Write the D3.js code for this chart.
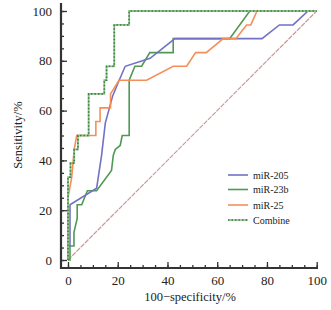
<!DOCTYPE html>
<html>
<head>
<meta charset="utf-8">
<script src="https://cdn.jsdelivr.net/npm/d3@7"></script>
<style>
  body { margin: 0; background: #fff; }
  text { font-family: "Liberation Serif", "DejaVu Serif", serif; fill: #222; }
</style>
</head>
<body>
<div id="chart"></div>
<script>
// ROC curves, values (x = 100-specificity, y = sensitivity)
const mir205X = [0, 0, 0.8, 0.8, 11.5, 13.5, 15, 18, 20.5, 23, 33, 43, 78, 85, 90.5, 96.5, 100];
const mir205Y = [0, 5.6, 5.6, 22.2, 28.8, 42, 55, 66, 72, 77.8, 81, 88.9, 88.9, 94.4, 94.4, 100, 100];

const mir23bX = [0, 0.8, 0.8, 2.4, 2.4, 3.7, 3.7, 5.5, 7.8, 11.5, 17.5, 18.2, 19, 21, 21.8, 24.6, 24.6, 26.9, 29.6, 32.9, 42.3, 42.3, 65, 73.1, 100];
const mir23bY = [0, 0, 5.6, 5.6, 11.1, 16.7, 22.2, 22.2, 27.8, 27.8, 36, 42, 44.4, 46, 50, 50, 72.2, 77.8, 77.8, 83.3, 83.3, 88.9, 88.9, 100, 100];

const mir25X = [0, 0, 1.5, 2.5, 3.5, 11.2, 11.2, 12.9, 12.9, 17.1, 17.1, 20.5, 31.6, 42.3, 47.7, 51.3, 55.6, 62.4, 67.5, 71.8, 73.5, 76, 100];
const mir25Y = [0, 25, 33.3, 44.4, 50, 50, 55.6, 55.6, 61.1, 61.1, 66.7, 72.2, 72.2, 77.8, 77.8, 83.3, 83.3, 88.9, 88.9, 94.4, 94.4, 100, 100];

const combineX = [0, 0, 1, 1, 2.5, 2.5, 4, 4, 8.3, 8.3, 14.6, 14.6, 15.5, 15.5, 18.6, 18.6, 24.6, 24.6, 100];
const combineY = [0, 33.3, 33.3, 38.9, 38.9, 44.4, 44.4, 50, 50, 66.7, 66.7, 72.2, 72.2, 77.8, 77.8, 94.4, 94.4, 100, 100];

const seriesNames = ["miR-205", "miR-23b", "miR-25", "Combine"];
const xMajorTicks = [0, 20, 40, 60, 80, 100];
const yMajorTicks = [0, 20, 40, 60, 80, 100];

const width = 331, height = 310;

const svg = d3.select("#chart").append("svg")
    .attr("width", width)
    .attr("height", height);

const x = d3.scaleLinear().domain([0, 100]).range([68, 316.7]);
const y = d3.scaleLinear().domain([0, 100]).range([260, 11]);

const axisX = 61, axisY = 268;

// minor ticks every 5
const minor = d3.range(0, 101, 5);

svg.append("g").attr("transform", "translate(" + axisX + ",0)")
    .call(d3.axisLeft(y).tickValues(minor).tickSize(-3).tickFormat(""));
svg.append("g").attr("transform", "translate(" + axisX + ",0)")
    .call(d3.axisLeft(y).tickValues(yMajorTicks).tickSize(-6).tickPadding(9));

svg.append("g").attr("transform", "translate(0," + axisY + ")")
    .call(d3.axisBottom(x).tickValues(minor).tickSize(-3).tickFormat(""));
svg.append("g").attr("transform", "translate(0," + axisY + ")")
    .call(d3.axisBottom(x).tickValues(xMajorTicks).tickSize(-6).tickPadding(8));

svg.selectAll(".domain").remove();
svg.selectAll(".tick line").attr("stroke", "#333").attr("stroke-width", 1.3);
svg.selectAll(".tick text")
    .style("font-family", "'Liberation Serif', serif")
    .style("font-size", "13px")
    .attr("fill", "#222");

// thick axis lines
svg.append("line")
    .attr("x1", axisX).attr("x2", axisX)
    .attr("y1", 3).attr("y2", axisY + 1)
    .attr("stroke", "#333").attr("stroke-width", 2.2);
svg.append("line")
    .attr("x1", axisX - 1).attr("x2", 318)
    .attr("y1", axisY).attr("y2", axisY)
    .attr("stroke", "#333").attr("stroke-width", 2.2);

// reference diagonal
svg.append("line")
    .attr("x1", x(0)).attr("y1", y(0))
    .attr("x2", x(100)).attr("y2", y(100))
    .attr("stroke", "#cc9a9a")
    .attr("stroke-width", 1.2)
    .attr("stroke-dasharray", "5,1");

const line = d3.line().x(d => x(d[0])).y(d => y(d[1]));
const zip = (xs, ys) => xs.map((v, i) => [v, ys[i]]);

svg.append("path").datum(zip(mir23bX, mir23bY))
    .attr("d", line).attr("fill", "none")
    .attr("stroke", "#4f9a52").attr("stroke-width", 1.6);

svg.append("path").datum(zip(mir205X, mir205Y))
    .attr("d", line).attr("fill", "none")
    .attr("stroke", "#7272c4").attr("stroke-width", 1.6);

svg.append("path").datum(zip(mir25X, mir25Y))
    .attr("d", line).attr("fill", "none")
    .attr("stroke", "#f58f5a").attr("stroke-width", 1.6);

// combine: light green under dark dashes
svg.append("path").datum(zip(combineX, combineY))
    .attr("d", line).attr("fill", "none")
    .attr("stroke", "#8cc28c").attr("stroke-width", 1.8);
svg.append("path").datum(zip(combineX, combineY))
    .attr("d", line).attr("fill", "none")
    .attr("stroke", "#3f7f42").attr("stroke-width", 1.6)
    .attr("stroke-dasharray", "1.5,2");

// axis titles
svg.append("text")
    .attr("transform", "translate(22,135) rotate(-90)")
    .attr("text-anchor", "middle")
    .style("font-size", "12.5px")
    .text("Sensitivity/%");

svg.append("text")
    .attr("x", 190).attr("y", 301)
    .attr("text-anchor", "middle")
    .style("font-size", "12.5px")
    .text("100\u2212specificity/%");

// legend
const legendColors = ["#7272c4", "#4f9a52", "#f58f5a", "#3f7f42"];
const legendY = [175, 189.5, 205, 220];
const legend = svg.append("g");
seriesNames.forEach((name, i) => {
    if (i === 3) {
        legend.append("line")
            .attr("x1", 228).attr("x2", 248).attr("y1", legendY[i]).attr("y2", legendY[i])
            .attr("stroke", "#8cc28c").attr("stroke-width", 1.6);
        legend.append("line")
            .attr("x1", 228).attr("x2", 248).attr("y1", legendY[i]).attr("y2", legendY[i])
            .attr("stroke", "#3f7f42").attr("stroke-width", 1.4).attr("stroke-dasharray", "1.5,2");
    } else {
        legend.append("line")
            .attr("x1", 228).attr("x2", 248).attr("y1", legendY[i]).attr("y2", legendY[i])
            .attr("stroke", legendColors[i]).attr("stroke-width", 1.6);
    }
    legend.append("text")
        .attr("x", 253).attr("y", legendY[i])
        .attr("dy", "0.35em")
        .style("font-size", "10px")
        .text(name);
});
</script>
</body>
</html>
